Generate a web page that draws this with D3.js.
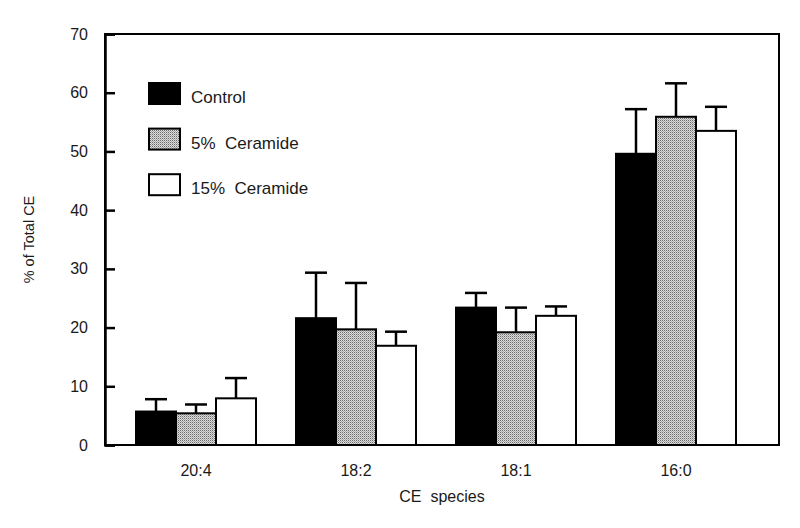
<!DOCTYPE html>
<html><head><meta charset="utf-8">
<script src="https://cdn.jsdelivr.net/npm/d3@7"></script>
<style>body{margin:0;background:#fff}text{font-family:"Liberation Sans",Arial,sans-serif;fill:#1a1a1a}</style>
</head><body><svg id="c" width="800" height="528"></svg>
<script>
const categories = ["20:4", "18:2", "18:1", "16:0"];
const seriesNames = ["Control", "5%  Ceramide", "15%  Ceramide"];
const control    = [5.7, 21.6, 23.4, 49.6];
const ceramide5  = [5.4, 19.7, 19.2, 55.9];
const ceramide15 = [7.95, 16.9, 22.0, 53.5];
const controlErr    = [2.1, 7.75, 2.5, 7.6];
const ceramide5Err  = [1.5, 7.9, 4.2, 5.7];
const ceramide15Err = [3.45, 2.4, 1.6, 4.1];
const yTicks = [0, 10, 20, 30, 40, 50, 60, 70];

const series = [
  {name: seriesNames[0], values: control, err: controlErr, fill: "#000"},
  {name: seriesNames[1], values: ceramide5, err: ceramide5Err, fill: "url(#stip)"},
  {name: seriesNames[2], values: ceramide15, err: ceramide15Err, fill: "#fff"}
];

const svg = d3.select("#c");
const L = 105, R = 779, T = 34, B = 445;

const defs = svg.append("defs");
const pat = defs.append("pattern").attr("id","stip").attr("patternUnits","userSpaceOnUse")
  .attr("width",2).attr("height",2);
pat.append("rect").attr("width",2).attr("height",2).attr("fill","#dcdcdc");
pat.append("rect").attr("x",0).attr("y",0).attr("width",1).attr("height",1).attr("fill","#6a6a6a");
pat.append("rect").attr("x",1).attr("y",1).attr("width",1).attr("height",1).attr("fill","#a8a8a8");

const y = d3.scaleLinear().domain([0,70]).range([B,T]);
const x0 = d3.scaleBand().domain(categories).range([116,756]).padding(0);
const groupW = 120;
const x1 = d3.scaleBand().domain(seriesNames).range([0,groupW]).padding(0);
const off = (x0.bandwidth()-groupW)/2;

// bars
series.forEach(s => {
  const g = svg.append("g");
  g.selectAll("rect").data(categories).join("rect")
    .attr("x", (c) => x0(c)+off+x1(s.name))
    .attr("y", (c,i) => y(s.values[i]))
    .attr("width", x1.bandwidth())
    .attr("height", (c,i) => B - y(s.values[i]))
    .attr("fill", s.fill).attr("stroke","#000").attr("stroke-width",2);
  // error bars
  categories.forEach((c,i) => {
    const cx = x0(c)+off+x1(s.name)+x1.bandwidth()/2;
    g.append("line").attr("x1",cx).attr("x2",cx)
      .attr("y1",y(s.values[i])).attr("y2",y(s.values[i]+s.err[i]))
      .attr("stroke","#000").attr("stroke-width",2.5);
    g.append("line").attr("x1",cx-11).attr("x2",cx+11)
      .attr("y1",y(s.values[i]+s.err[i])).attr("y2",y(s.values[i]+s.err[i]))
      .attr("stroke","#000").attr("stroke-width",2.5);
  });
});

// frame
svg.append("rect").attr("x",L).attr("y",T).attr("width",R-L).attr("height",B-T)
  .attr("fill","none").attr("stroke","#000").attr("stroke-width",2);

// y axis
const yAxis = d3.axisLeft(y).tickValues(yTicks).tickSize(-10).tickPadding(17);
const ya = svg.append("g").attr("transform",`translate(${L},0)`).call(yAxis);
ya.select(".domain").attr("stroke","#000").attr("stroke-width",2.5);
ya.selectAll(".tick line").attr("stroke","#000").attr("stroke-width",2.5);
ya.selectAll(".tick text").attr("font-size",16).attr("fill","#1a1a1a")
  .attr("font-family","Liberation Sans, Arial, sans-serif");

// x axis labels
const xAxis = d3.axisBottom(x0).tickSize(0).tickPadding(20);
const xa = svg.append("g").attr("transform",`translate(0,${B})`).call(xAxis);
xa.select(".domain").remove();
xa.selectAll(".tick text").attr("font-size",16).attr("fill","#1a1a1a")
  .attr("font-family","Liberation Sans, Arial, sans-serif");

// axis titles
svg.append("text").attr("x",(L+R)/2).attr("y",502).attr("text-anchor","middle")
  .attr("font-size",16).style("white-space","pre").text("CE  species");
svg.append("text").attr("transform",`translate(34,${(T+B)/2}) rotate(-90)`)
  .attr("text-anchor","middle").attr("font-size",14.5).text("% of Total CE");

// legend
const leg = svg.append("g");
series.forEach((s,i) => {
  const yy = 83 + i*45.6;
  leg.append("rect").attr("x",149).attr("y",yy).attr("width",31).attr("height",21)
    .attr("fill",s.fill).attr("stroke","#000").attr("stroke-width",2);
  leg.append("text").attr("x",191).attr("y",yy+20).attr("font-size",17)
    .style("white-space","pre").text(s.name);
});
</script></body></html>
